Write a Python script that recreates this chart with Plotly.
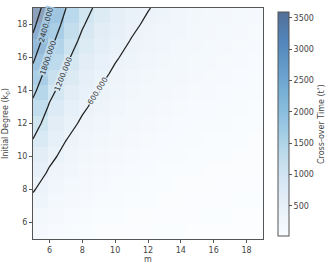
import math
import plotly.graph_objects as go

m_vals = [5, 6, 7, 8, 9, 10, 11, 12, 13, 14, 15, 16, 17, 18, 19]
k_vals = [5, 6, 7, 8, 9, 10, 11, 12, 13, 14, 15, 16, 17, 18, 19]

# Cross-over time t*, rows = initial degree k0 (5..19), cols = m (5..19)
t_star = [
    [245, 170, 125, 96, 76, 61, 51, 43, 36, 31, 27, 24, 21, 19, 17],
    [353, 245, 180, 138, 109, 88, 73, 61, 52, 45, 39, 34, 31, 27, 24],
    [480, 333, 245, 188, 148, 120, 99, 83, 71, 61, 53, 47, 42, 37, 33],
    [627, 436, 320, 245, 194, 157, 130, 109, 93, 80, 70, 61, 54, 48, 43],
    [794, 551, 405, 310, 245, 198, 164, 138, 117, 101, 88, 78, 69, 61, 55],
    [980, 681, 500, 383, 303, 245, 203, 170, 145, 125, 109, 96, 85, 76, 68],
    [1186, 824, 605, 463, 366, 296, 245, 206, 175, 151, 132, 116, 103, 91, 82],
    [1411, 980, 720, 551, 436, 353, 292, 245, 209, 180, 157, 138, 122, 109, 98],
    [1656, 1150, 845, 647, 511, 414, 342, 287, 245, 211, 184, 162, 143, 128, 115],
    [1921, 1334, 980, 750, 593, 480, 397, 333, 284, 245, 213, 188, 166, 148, 133],
    [2205, 1531, 1125, 861, 681, 551, 456, 383, 326, 281, 245, 215, 191, 170, 153],
    [2509, 1742, 1280, 980, 774, 627, 518, 435, 371, 320, 279, 245, 217, 194, 174],
    [2832, 1967, 1445, 1106, 874, 708, 585, 492, 419, 361, 315, 277, 245, 218, 196],
    [3175, 2205, 1620, 1240, 980, 794, 656, 551, 470, 405, 353, 310, 275, 245, 220],
    [3538, 2457, 1805, 1382, 1092, 884, 731, 614, 523, 451, 393, 345, 306, 273, 245],
]

contour_levels = [600, 1200, 1800, 2400, 3000]
labelled_levels = [600, 1200, 1800, 2400]
label_at_k = [14.0, 15.0, 16.0, 18.0]   # height (k0) at which each contour label sits
cbar_ticks = [500, 1000, 1500, 2000, 2500, 3000, 3500]
axis_ticks = [6, 8, 10, 12, 14, 16, 18]

# matplotlib "Blues" at alpha 0.7 over white
blues_alpha = [
    [0.0, (249, 252, 255)],
    [0.125, (232, 241, 249)],
    [0.25, (215, 230, 244)],
    [0.375, (187, 218, 234)],
    [0.5, (151, 198, 226)],
    [0.625, (123, 179, 215)],
    [0.75, (100, 156, 203)],
    [0.875, (82, 133, 186)],
    [1.0, (82, 110, 151)],
]
ZMIN, ZMAX = 17, 3590
HEAT_OPACITY = 0.66

font_fam = "DejaVu Sans"
ink = "#444444"

# plot-area geometry (pixels)
W, H = 332, 267
ML, MR, MT, MB = 33, 69, 7.5, 28
PW, PH = W - ML - MR, H - MT - MB

colorscale = [[s, "rgb(%d,%d,%d)" % c] for s, c in blues_alpha]


def scale_color(v):
    f = min(max((v - ZMIN) / (ZMAX - ZMIN), 0), 1)
    for (s0, c0), (s1, c1) in zip(blues_alpha[:-1], blues_alpha[1:]):
        if s0 <= f <= s1:
            u = (f - s0) / (s1 - s0)
            c = [a + (b - a) * u for a, b in zip(c0, c1)]
            c = [HEAT_OPACITY * x + (1 - HEAT_OPACITY) * 255 for x in c]
            return "rgb(%d,%d,%d)" % tuple(round(x) for x in c)
    return "white"


def row_at(k):
    i = min(int(math.floor(k - k_vals[0])), len(k_vals) - 2)
    u = (k - k_vals[i])
    return [a + (b - a) * u for a, b in zip(t_star[i], t_star[i + 1])]


def crossing_m(level, k):
    row = row_at(k)
    for j in range(len(m_vals) - 1):
        a, b = row[j], row[j + 1]
        if (a - level) * (b - level) <= 0 and a != b:
            return m_vals[j] + (level - a) / (b - a) * (m_vals[j + 1] - m_vals[j])
    return None


# heatmap cells laid out like imshow with extent [5, 19, 5, 19]
n = len(m_vals)
span_m = m_vals[-1] - m_vals[0]
span_k = k_vals[-1] - k_vals[0]
cell_m = [m_vals[0] + span_m / n * (i + 0.5) for i in range(n)]
cell_k = [k_vals[0] + span_k / n * (i + 0.5) for i in range(n)]

fig = go.Figure()
fig.add_trace(go.Heatmap(
    x=cell_m, y=cell_k, z=t_star,
    colorscale=colorscale, zmin=ZMIN, zmax=ZMAX, opacity=HEAT_OPACITY,
    colorbar=dict(
        thickness=11, len=0.968, lenmode="fraction",
        x=(278 - ML) / PW, xanchor="left", xpad=0, ypad=0,
        y=0.497, yanchor="middle",
        outlinecolor="#555555", outlinewidth=1,
        tickvals=cbar_ticks, ticks="outside", ticklen=3, tickcolor="#555555",
        tickfont=dict(size=8, color=ink, family=font_fam),
        title=dict(text="Cross-over Time (t<sup>*</sup>)", side="right",
                   font=dict(size=8, color=ink, family=font_fam)),
    ),
    hoverinfo="skip",
))
fig.add_trace(go.Contour(
    x=m_vals, y=k_vals, z=t_star,
    contours=dict(start=contour_levels[0], end=contour_levels[-1],
                  size=contour_levels[1] - contour_levels[0],
                  coloring="none", showlabels=False),
    line=dict(color="#222222", width=1.3, smoothing=0),
    showscale=False, hoverinfo="skip",
))

# inline contour labels, placed on the contour lines computed from the data
px_m = PW / span_m
px_k = PH / span_k
for lev, k in zip(labelled_levels, label_at_k):
    m = crossing_m(lev, k)
    m_lo, m_hi = crossing_m(lev, k - 0.5), crossing_m(lev, min(k + 0.5, k_vals[-1]))
    dk = (min(k + 0.5, k_vals[-1]) - (k - 0.5)) * px_k
    dm = (m_hi - m_lo) * px_m
    ang = math.degrees(math.atan2(dk, dm))
    fig.add_annotation(
        x=m, y=k, xref="x", yref="y", text="%.3f" % lev, showarrow=False,
        textangle=-ang, font=dict(size=7.5, color="#333333", family=font_fam),
        bgcolor=scale_color(lev), borderpad=0,
    )

axis_common = dict(
    showgrid=False, zeroline=False, showline=True, mirror=True,
    linecolor="#555555", linewidth=1, ticks="outside", ticklen=3,
    tickcolor="#555555", tickfont=dict(size=8, color=ink, family=font_fam),
    automargin=True,
)
fig.update_xaxes(range=[m_vals[0], m_vals[-1]], tickvals=axis_ticks,
                 title=dict(text="m", font=dict(size=8, color=ink, family=font_fam), standoff=1),
                 **axis_common)
fig.update_yaxes(range=[k_vals[0], k_vals[-1]], tickvals=axis_ticks,
                 title=dict(text="Initial Degree (k<sub>0</sub>)",
                            font=dict(size=8, color=ink, family=font_fam), standoff=7),
                 **axis_common)
fig.update_layout(
    width=W, height=H,
    margin=dict(l=ML, r=MR, t=MT, b=MB, autoexpand=False),
    paper_bgcolor="white", plot_bgcolor="white",
    showlegend=False,
)
fig.write_html("out.html", config={"displayModeBar": False},
               post_script="document.body.style.margin='0px';document.body.style.padding='0px';")
